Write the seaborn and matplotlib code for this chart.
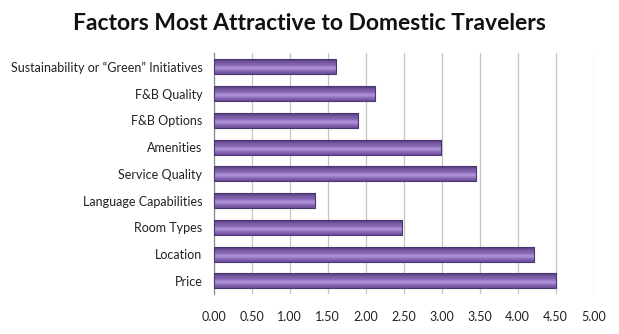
import numpy as np
import pandas as pd
import matplotlib
matplotlib.use("Agg")
import matplotlib.pyplot as plt
import seaborn as sns
from matplotlib.colors import LinearSegmentedColormap

categories = ["Sustainability or \u201cGreen\u201d Initiatives", "F&B Quality", "F&B Options",
              "Amenities", "Service Quality", "Language Capabilities", "Room Types",
              "Location", "Price"]
values = [1.61, 2.12, 1.90, 2.99, 3.45, 1.34, 2.48, 4.21, 4.50]
xticks = [0.0, 0.5, 1.0, 1.5, 2.0, 2.5, 3.0, 3.5, 4.0, 4.5, 5.0]

sns.set_theme(style="white")
plt.rcParams['font.family'] = ['Lato', 'DejaVu Sans']

df = pd.DataFrame({"factor": categories, "score": values})

fig = plt.figure(figsize=(6.19, 3.34), dpi=100)
ax = fig.add_axes([0.345, 0.119, 0.614, 0.721])
sns.barplot(data=df, y="factor", x="score", orient="h", color="#7b5ba6",
            width=0.56, edgecolor="#4a3670", linewidth=0.8, ax=ax, zorder=3)

cmap = LinearSegmentedColormap.from_list("bar", ["#4c3572", "#7658a3", "#8465b2", "#b59ade", "#8a6ab8", "#6a4c96"])
grad = np.linspace(0, 1, 64).reshape(-1, 1)
for p in ax.patches:
    x0, y0 = p.get_x(), p.get_y()
    w, h = p.get_width(), p.get_height()
    im = ax.imshow(grad, cmap=cmap, aspect="auto", extent=[x0, x0 + w, y0 + h, y0],
                   zorder=3.5, interpolation="bicubic")
    im.set_clip_path(p)
    p.set_facecolor("none")
    p.set_zorder(4)

ax.set_xlim(0, 5)
ax.set_ylim(len(categories) - 0.5, -0.5)
ax.set_xticks(xticks)
ax.set_xticklabels([f"{t:.2f}" for t in xticks])
ax.grid(axis="x", color="#c4c4c4", linewidth=0.9, zorder=0)
ax.grid(axis="y", visible=False)
for s in ["top", "right", "bottom"]:
    ax.spines[s].set_visible(False)
ax.spines["left"].set_color("#8c8c8c")
ax.spines["left"].set_linewidth(0.9)
ax.set_xlabel("")
ax.set_ylabel("")
ax.tick_params(axis="y", length=0, pad=8, labelsize=9, labelcolor="#222222")
ax.tick_params(axis="x", length=4, width=0.9, color="#c4c4c4", pad=8, labelsize=9, labelcolor="#222222")

fig.text(0.5, 0.93, "Factors Most Attractive to Domestic Travelers", ha="center", va="center",
         fontsize=16.5, fontweight="bold", color="#111111")

fig.savefig("out.png", dpi=100)
